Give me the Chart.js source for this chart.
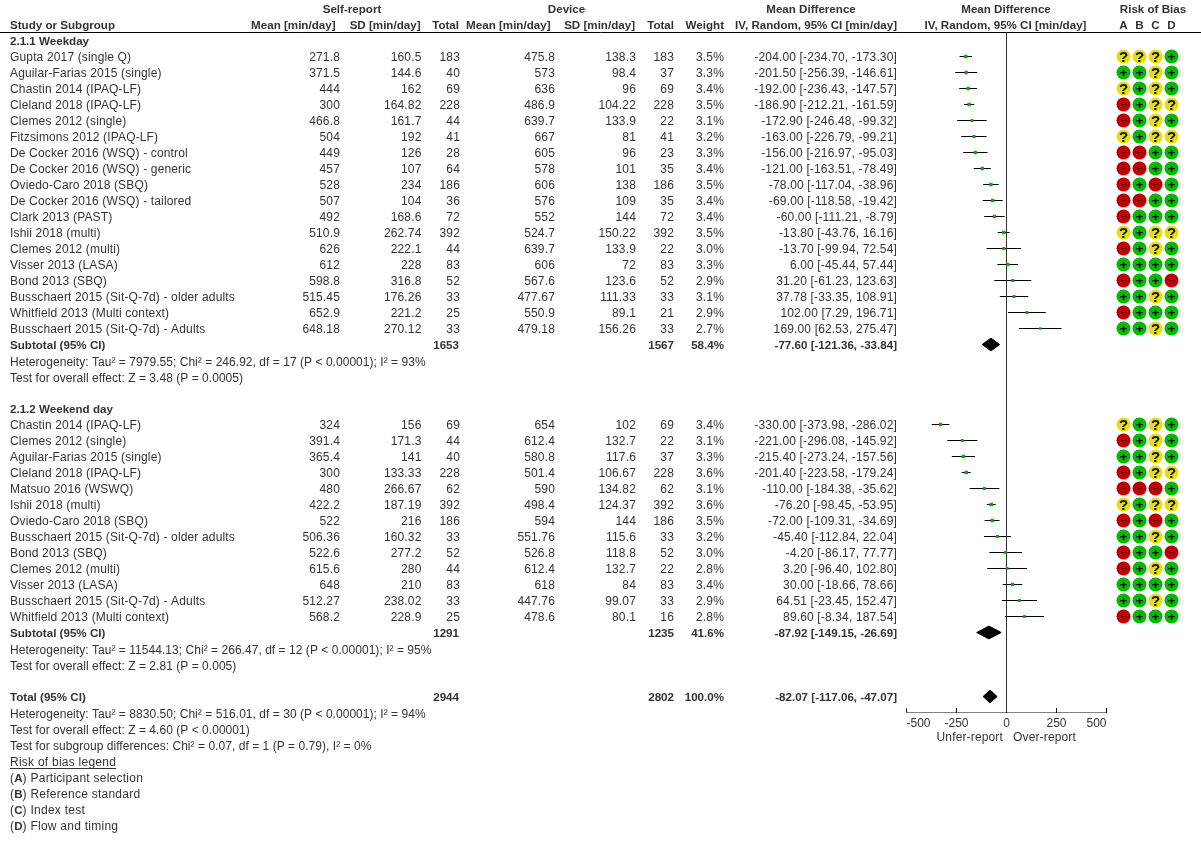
<!DOCTYPE html>
<html><head><meta charset="utf-8">
<style>html,body{margin:0;padding:0;background:#fff}canvas{display:block}</style>
<script src="https://cdn.jsdelivr.net/npm/chart.js@4"></script>
</head><body><canvas id="c" width="1201" height="848"></canvas>
<script>
// ---- Data ----
const weekdayStudies=["Gupta 2017 (single Q)","Aguilar-Farias 2015 (single)","Chastin 2014 (IPAQ-LF)","Cleland 2018 (IPAQ-LF)","Clemes 2012 (single)","Fitzsimons 2012 (IPAQ-LF)","De Cocker 2016 (WSQ) - control","De Cocker 2016 (WSQ) - generic","Oviedo-Caro 2018 (SBQ)","De Cocker 2016 (WSQ) - tailored","Clark 2013 (PAST)","Ishii 2018 (multi)","Clemes 2012 (multi)","Visser 2013 (LASA)","Bond 2013 (SBQ)","Busschaert 2015 (Sit-Q-7d) - older adults","Whitfield 2013 (Multi context)","Busschaert 2015 (Sit-Q-7d) - Adults"];
const weekdaySelfMean=[271.8,371.5,444,300,466.8,504,449,457,528,507,492,510.9,626,612,598.8,515.45,652.9,648.18];
const weekdaySelfSD=[160.5,144.6,162,164.82,161.7,192,126,107,234,104,168.6,262.74,222.1,228,316.8,176.26,221.2,270.12];
const weekdaySelfN=[183,40,69,228,44,41,28,64,186,36,72,392,44,83,52,33,25,33];
const weekdayDevMean=[475.8,573,636,486.9,639.7,667,605,578,606,576,552,524.7,639.7,606,567.6,477.67,550.9,479.18];
const weekdayDevSD=[138.3,98.4,96,104.22,133.9,81,96,101,138,109,144,150.22,133.9,72,123.6,111.33,89.1,156.26];
const weekdayDevN=[183,37,69,228,22,41,23,35,186,35,72,392,22,83,52,33,21,33];
const weekdayWeight=[3.5,3.3,3.4,3.5,3.1,3.2,3.3,3.4,3.5,3.4,3.4,3.5,3.0,3.3,2.9,3.1,2.9,2.7];
const weekdayMD=[-204,-201.5,-192,-186.9,-172.9,-163,-156,-121,-78,-69,-60,-13.8,-13.7,6,31.2,37.78,102,169];
const weekdayLow=[-234.7,-256.39,-236.43,-212.21,-246.48,-226.79,-216.97,-163.51,-117.04,-118.58,-111.21,-43.76,-99.94,-45.44,-61.23,-33.35,7.29,62.53];
const weekdayHigh=[-173.3,-146.61,-147.57,-161.59,-99.32,-99.21,-95.03,-78.49,-38.96,-19.42,-8.79,16.16,72.54,57.44,123.63,108.91,196.71,275.47];
const weekdayRoB=["???+","++?+","?+?+","-+??","-+?+","?+??","--++","--++","-+-+","--++","-+++","?+??","-+?+","++++","-++-","++?+","-+++","++?+"];

const weekendStudies=["Chastin 2014 (IPAQ-LF)","Clemes 2012 (single)","Aguilar-Farias 2015 (single)","Cleland 2018 (IPAQ-LF)","Matsuo 2016 (WSWQ)","Ishii 2018 (multi)","Oviedo-Caro 2018 (SBQ)","Busschaert 2015 (Sit-Q-7d) - older adults","Bond 2013 (SBQ)","Clemes 2012 (multi)","Visser 2013 (LASA)","Busschaert 2015 (Sit-Q-7d) - Adults","Whitfield 2013 (Multi context)"];
const weekendSelfMean=[324,391.4,365.4,300,480,422.2,522,506.36,522.6,615.6,648,512.27,568.2];
const weekendSelfSD=[156,171.3,141,133.33,266.67,187.19,216,160.32,277.2,280,210,238.02,228.9];
const weekendSelfN=[69,44,40,228,62,392,186,33,52,44,83,33,25];
const weekendDevMean=[654,612.4,580.8,501.4,590,498.4,594,551.76,526.8,612.4,618,447.76,478.6];
const weekendDevSD=[102,132.7,117.6,106.67,134.82,124.37,144,115.6,118.8,132.7,84,99.07,80.1];
const weekendDevN=[69,22,37,228,62,392,186,33,52,22,83,33,16];
const weekendWeight=[3.4,3.1,3.3,3.6,3.1,3.6,3.5,3.2,3.0,2.8,3.4,2.9,2.8];
const weekendMD=[-330,-221,-215.4,-201.4,-110,-76.2,-72,-45.4,-4.2,3.2,30,64.51,89.6];
const weekendLow=[-373.98,-296.08,-273.24,-223.58,-184.38,-98.45,-109.31,-112.84,-86.17,-96.4,-18.66,-23.45,-8.34];
const weekendHigh=[-286.02,-145.92,-157.56,-179.24,-35.62,-53.95,-34.69,22.04,77.77,102.8,78.66,152.47,187.54];
const weekendRoB=["?+?+","-+?+","++?+","-+??","---+","?+??","-+-+","++?+","-++-","-+?+","++++","++?+","-+++"];

const summaryLabels=["Subtotal (95% CI)","Subtotal (95% CI)","Total (95% CI)"];
const summarySelfN=[1653,1291,2944];
const summaryDevN=[1567,1235,2802];
const summaryWeight=["58.4%","41.6%","100.0%"];
const summaryMD=[-77.6,-87.92,-82.07];
const summaryLow=[-121.36,-149.15,-117.06];
const summaryHigh=[-33.84,-26.69,-47.07];
const axisTicks=[-500,-250,0,250,500];
const robColumns=["A","B","C","D"];
const notesWeekday=["Heterogeneity: Tau² = 7979.55; Chi² = 246.92, df = 17 (P < 0.00001); I² = 93%","Test for overall effect: Z = 3.48 (P = 0.0005)"];
const notesWeekend=["Heterogeneity: Tau² = 11544.13; Chi² = 266.47, df = 12 (P < 0.00001); I² = 95%","Test for overall effect: Z = 2.81 (P = 0.005)"];
const notesTotal=["Heterogeneity: Tau² = 8830.50; Chi² = 516.01, df = 30 (P < 0.00001); I² = 94%","Test for overall effect: Z = 4.60 (P < 0.00001)","Test for subgroup differences: Chi² = 0.07, df = 1 (P = 0.79), I² = 0%"];
const legendItems=[["A","Participant selection"],["B","Reference standard"],["C","Index test"],["D","Flow and timing"]];

// ---- Row layout ----
const R1=0,RS1=18,RG2=22,R2=23,RS2=36,RT=40;
const studies=[
 ...weekdayStudies.map((n,i)=>({r:R1+i,w:weekdayWeight[i],m:weekdayMD[i],lo:weekdayLow[i],hi:weekdayHigh[i],rob:weekdayRoB[i]})),
 ...weekendStudies.map((n,i)=>({r:R2+i,w:weekendWeight[i],m:weekendMD[i],lo:weekendLow[i],hi:weekendHigh[i],rob:weekendRoB[i]}))
];
const sumRows=[RS1,RS2,RT];
const AXIS_ROW=41;
const colors={"+":"#00bb00","?":"#e8e000","-":"#c00000"};

const ciData=[];studies.forEach(s=>{ciData.push({x:s.lo,y:s.r},{x:s.hi,y:s.r},{x:s.hi,y:null});});
const axisData=[{x:axisTicks[0],y:AXIS_ROW},{x:axisTicks[axisTicks.length-1],y:AXIS_ROW},{x:0,y:null}];
axisTicks.forEach(v=>axisData.push({x:v,y:AXIS_ROW-0.25},{x:v,y:AXIS_ROW+0.25},{x:v,y:null}));
const robData=[],robColors=[],robSymbols=[];
studies.forEach(s=>[...s.rob].forEach((c,i)=>{robData.push({x:i,y:s.r});robColors.push(colors[c]);robSymbols.push(c);}));
const diamonds=sumRows.map((r,i)=>({type:'scatter',showLine:true,fill:'shape',backgroundColor:'#000',borderColor:'#000',borderWidth:1,pointRadius:0,
  data:[{x:summaryLow[i],y:r},{x:summaryMD[i],y:r-0.4},{x:summaryHigh[i],y:r},{x:summaryMD[i],y:r+0.4},{x:summaryLow[i],y:r}]}));

const FONT='"Liberation Sans", Arial, sans-serif', TXT='#333';
const fmt=v=>String(v);
const md=(m,l,h)=>`${m.toFixed(2)} [${l.toFixed(2)}, ${h.toFixed(2)}]`;
const COL={name:10,sm:340,ss:421.5,sn:460,dm:555,ds:636,dn:674,w:724,md:897};

const tablePlugin={id:'table',afterDraw(chart){
  const ctx=chart.ctx,yS=chart.scales.y;
  const T=(s,x,r,al='left',b=false,dy=1.5,ls=0.15)=>{ctx.font=(b?'bold 11.6px ':'12px ')+FONT;ctx.letterSpacing=(b?0:ls)+'px';ctx.textAlign=al;ctx.textBaseline='middle';ctx.fillStyle=TXT;ctx.fillText(s,x,yS.getPixelForValue(r)+dy);};
  ctx.save();
  // header rule
  ctx.strokeStyle='#000';ctx.lineWidth=1;ctx.beginPath();ctx.moveTo(0,32.5);ctx.lineTo(1201,32.5);ctx.stroke();
  T("Self-report",352,-3,'center',true);T("Device",566.5,-3,'center',true);
  T("Mean Difference",811,-3,'center',true);T("Mean Difference",1006,-3,'center',true);T("Risk of Bias",1153,-3,'center',true);
  T("Study or Subgroup",COL.name,-2,'left',true);
  T("Mean [min/day]",COL.sm-4.5,-2,'right',true);T("SD [min/day]",COL.ss-1,-2,'right',true);T("Total",COL.sn-1,-2,'right',true);
  T("Mean [min/day]",COL.dm-4.5,-2,'right',true);T("SD [min/day]",COL.ds-1,-2,'right',true);T("Total",COL.dn,-2,'right',true);
  T("Weight",COL.w,-2,'right',true);
  T("IV, Random, 95% CI [min/day]",COL.md,-2,'right',true);T("IV, Random, 95% CI [min/day]",1005.5,-2,'center',true);
  robColumns.forEach((c,i)=>T(c,chart.scales.rob.getPixelForValue(i),-2,'center',true));
  T("2.1.1 Weekday",COL.name,-1,'left',true);T("2.1.2 Weekend day",COL.name,RG2,'left',true);
  const rows=(base,n,sm,ss,sn,dm,ds,dn,w,m,l,h)=>n.forEach((name,i)=>{const r=base+i;
    T(name,COL.name,r);T(fmt(sm[i]),COL.sm,r,'right');T(fmt(ss[i]),COL.ss,r,'right');T(fmt(sn[i]),COL.sn,r,'right');
    T(fmt(dm[i]),COL.dm,r,'right');T(fmt(ds[i]),COL.ds,r,'right');T(fmt(dn[i]),COL.dn,r,'right');
    T(w[i].toFixed(1)+'%',COL.w,r,'right');T(md(m[i],l[i],h[i]),COL.md,r,'right');});
  rows(R1,weekdayStudies,weekdaySelfMean,weekdaySelfSD,weekdaySelfN,weekdayDevMean,weekdayDevSD,weekdayDevN,weekdayWeight,weekdayMD,weekdayLow,weekdayHigh);
  rows(R2,weekendStudies,weekendSelfMean,weekendSelfSD,weekendSelfN,weekendDevMean,weekendDevSD,weekendDevN,weekendWeight,weekendMD,weekendLow,weekendHigh);
  sumRows.forEach((r,i)=>{T(summaryLabels[i],COL.name,r,'left',true);T(String(summarySelfN[i]),COL.sn-1,r,'right',true);T(String(summaryDevN[i]),COL.dn,r,'right',true);
    T(summaryWeight[i],COL.w,r,'right',true);T(md(summaryMD[i],summaryLow[i],summaryHigh[i]),COL.md,r,'right',true);});
  notesWeekday.forEach((s,i)=>T(s,COL.name,RS1+1+i,'left',false,2.5,0.04));
  notesWeekend.forEach((s,i)=>T(s,COL.name,RS2+1+i,'left',false,2.5,0.04));
  notesTotal.forEach((s,i)=>T(s,COL.name,RT+1+i,'left',false,2.5,0.04));
  const lr=RT+4;
  T("Risk of bias legend",COL.name,lr,'left',false,2.5,0.25);
  const lw=ctx.measureText("Risk of bias legend").width,ly=yS.getPixelForValue(lr)+7;
  ctx.strokeStyle=TXT;ctx.beginPath();ctx.moveTo(COL.name,Math.round(ly)+.5);ctx.lineTo(COL.name+lw,Math.round(ly)+.5);ctx.stroke();
  legendItems.forEach(([k,s],i)=>{const r=lr+1+i;let x=COL.name;
    T('(',x,r,'left',false,2.5,0.25);x+=ctx.measureText('(').width;
    T(k,x,r,'left',true,2.5);x+=ctx.measureText(k).width;
    T(') '+s,x,r,'left',false,2.5,0.25);});
  // axis direction labels
  T("Unfer-report",1003,AXIS_ROW+1.5,'right',false,1);T("Over-report",1013,AXIS_ROW+1.5,'left',false,1);
  // RoB symbols
  ctx.letterSpacing='0px';
  const meta=chart.getDatasetMeta(chart.data.datasets.findIndex(d=>d.label==='rob'));
  ctx.fillStyle='#000';ctx.textAlign='center';ctx.textBaseline='middle';
  meta.data.forEach((p,i)=>{const c=robSymbols[i];
    if(c==='?'){ctx.font='bold 15px '+FONT;ctx.fillText('?',p.x,p.y+1);}
    else if(c==='+'){ctx.font='bold 13px '+FONT;ctx.fillText('+',p.x,p.y+0.5);}
    else{ctx.fillStyle='#400000';ctx.fillRect(p.x-2.5,p.y-0.5,5,1);ctx.fillStyle='#000';}
  });
  ctx.restore();
}};

new Chart(document.getElementById('c'),{
  data:{datasets:[
    {type:'scatter',label:'est',pointStyle:'rect',backgroundColor:'#00b000',borderWidth:0,
      pointRadius:studies.map(s=>s.w*0.7),data:studies.map(s=>({x:s.m,y:s.r}))},
    ...diamonds,
    {type:'scatter',label:'ci',showLine:true,borderColor:'#000',borderWidth:1,pointRadius:0,data:ciData},
    {type:'scatter',label:'zero',showLine:true,borderColor:'#333',borderWidth:1,pointRadius:0,data:[{x:0,y:-1.5},{x:0,y:AXIS_ROW}]},
    {type:'scatter',label:'axis',showLine:true,borderColor:'#000',borderWidth:1,pointRadius:0,data:axisData},
    {type:'scatter',label:'rob',xAxisID:'rob',backgroundColor:robColors,borderWidth:0,pointRadius:7,data:robData}
  ]},
  options:{
    responsive:false,animation:false,events:[],
    layout:{autoPadding:false,padding:{left:906.5,right:0,top:32.5,bottom:0}},
    plugins:{legend:{display:false},tooltip:{enabled:false},title:{display:false}},
    scales:{
      x:{type:'linear',min:-500,max:972.5,position:'bottom',
        afterBuildTicks:s=>{s.ticks=axisTicks.map(v=>({value:v}));},
        afterFit:s=>{s.height=135.5;s.paddingLeft=0;s.paddingRight=0;},
        border:{display:false},
        grid:{drawOnChartArea:false,drawTicks:false},
        ticks:{align:'inner',autoSkip:false,maxRotation:0,padding:4,color:TXT,font:{family:FONT,size:12},callback:v=>String(v)}},
      rob:{type:'linear',display:false,min:-13.5625,max:4.84375,position:'bottom'},
      y:{type:'linear',display:false,reverse:true,min:-1.5,max:AXIS_ROW}
    }
  },
  plugins:[tablePlugin]
});
</script></body></html>
